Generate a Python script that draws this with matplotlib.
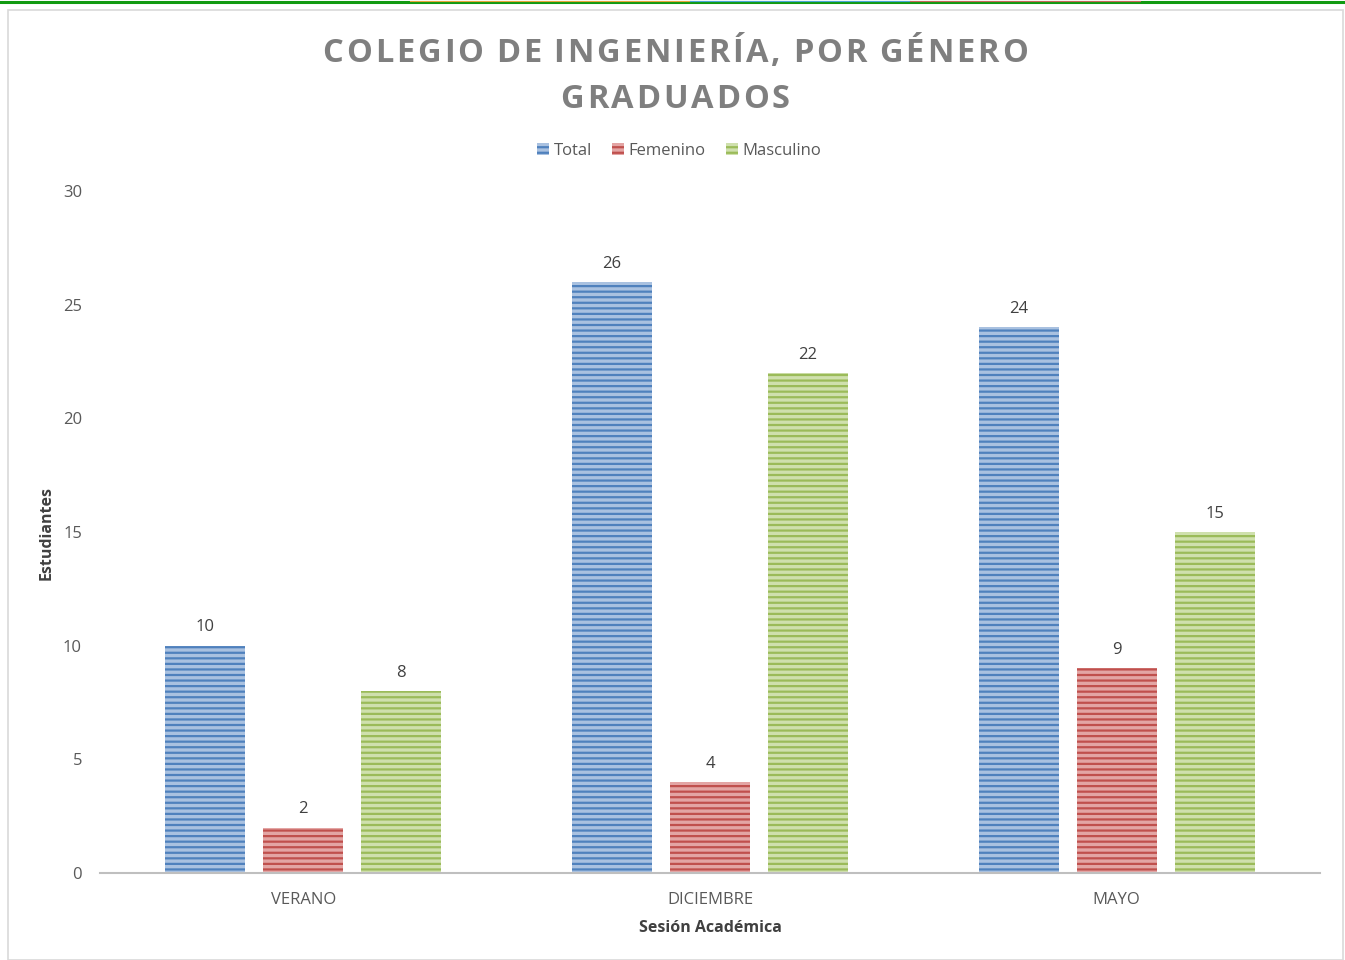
import numpy as np
import matplotlib.pyplot as plt
from matplotlib.patches import Rectangle, Patch
from matplotlib.lines import Line2D

sesiones = ["VERANO", "DICIEMBRE", "MAYO"]
total = [10, 26, 24]
femenino = [2, 4, 9]
masculino = [8, 22, 15]
series = ["Total", "Femenino", "Masculino"]

plt.rcParams['font.family'] = ['Open Sans', 'DejaVu Sans']
plt.rcParams['hatch.linewidth'] = 1.6

W, H = 1345, 960
fig = plt.figure(figsize=(W / 100, H / 100), dpi=100)

# chart frame and top strip
fig.patches.append(Rectangle((8 / W, 0), 1335 / W, 950 / H, transform=fig.transFigure,
                             facecolor='white', edgecolor='#d9d9d9', lw=1.2, zorder=-5))
fig.lines.append(Line2D([0, 1], [1 - 2 / H, 1 - 2 / H], transform=fig.transFigure,
                        color='#119a11', lw=2.2))
for x0, x1, c in [(410, 690, '#e8a33a'), (690, 910, '#4aa3d6'), (910, 1140, '#c8655a')]:
    fig.lines.append(Line2D([x0 / W, x1 / W], [1 - 0.5 / H, 1 - 0.5 / H],
                            transform=fig.transFigure, color=c, lw=0.8))

ax = fig.add_axes([100 / W, 87 / H, 1220 / W, 682 / H])
ax.set_facecolor('none')

x = np.arange(len(sesiones))
bw = 0.197
step = 0.241
colores = [('#a9c1e0', '#4f81bd'), ('#e3a5a4', '#c0504d'), ('#cfe0ad', '#9bbb59')]
datos = [total, femenino, masculino]
for i, (vals, (fc, ec)) in enumerate(zip(datos, colores)):
    pos = x + (i - 1) * step
    ax.bar(pos, vals, bw, facecolor=fc, edgecolor=ec, hatch='---', linewidth=0)
    for p, v in zip(pos, vals):
        ax.text(p, v + 0.45, str(v), ha='center', va='bottom', fontsize=12, color='#404040')

ax.set_xlim(-0.5, 2.5)
ax.set_ylim(0, 30)
ax.set_yticks(range(0, 31, 5))
ax.set_xticks(x)
ax.set_xticklabels(sesiones)
ax.tick_params(axis='both', length=0, labelsize=12, colors='#595959')
ax.tick_params(axis='y', pad=13)
ax.tick_params(axis='x', pad=14)
for s in ['top', 'right', 'left']:
    ax.spines[s].set_visible(False)
ax.spines['bottom'].set_color('#bfbfbf')
ax.spines['bottom'].set_linewidth(1.5)

ax.set_ylabel('Estudiantes', fontsize=11.5, fontweight='bold', color='#404040')
ax.yaxis.set_label_coords(-0.037, 0.4985)
ax.set_xlabel('Sesión Académica', fontsize=11.5, fontweight='bold', color='#404040', labelpad=8)

handles = [Patch(facecolor=fc, edgecolor=ec, hatch='---', linewidth=0) for fc, ec in colores]
ax.legend(handles, series, loc='center', bbox_to_anchor=(679 / W, 1 - 151 / H),
          bbox_transform=fig.transFigure, ncol=3, frameon=False, fontsize=12,
          handlelength=0.75, handleheight=0.75, handletextpad=0.25, columnspacing=1.2,
          labelcolor='#595959')


def spaced_title(text, xc, y, width, **kw):
    # draw characters one by one so the letter spacing fills the given width
    r = fig.canvas.get_renderer()
    ws = []
    for ch in text:
        t = fig.text(0, 0, ch if ch != ' ' else 'I', **kw)
        ws.append(t.get_window_extent(r).width * (0.6 if ch == ' ' else 1))
        t.remove()
    gap = (width - sum(ws)) / (len(text) - 1)
    xp = xc - width / 2
    for ch, w in zip(text, ws):
        fig.text(xp / W, 1 - y / H, ch, ha='left', va='center', **kw)
        xp += w + gap


kw = dict(fontsize=23.5, fontweight='bold', color='#7f7f7f')
spaced_title('COLEGIO DE INGENIERÍA, POR GÉNERO', 675, 54, 705, **kw)
spaced_title('GRADUADOS', 675, 100, 229, **kw)

fig.savefig('out.png', dpi=100)
